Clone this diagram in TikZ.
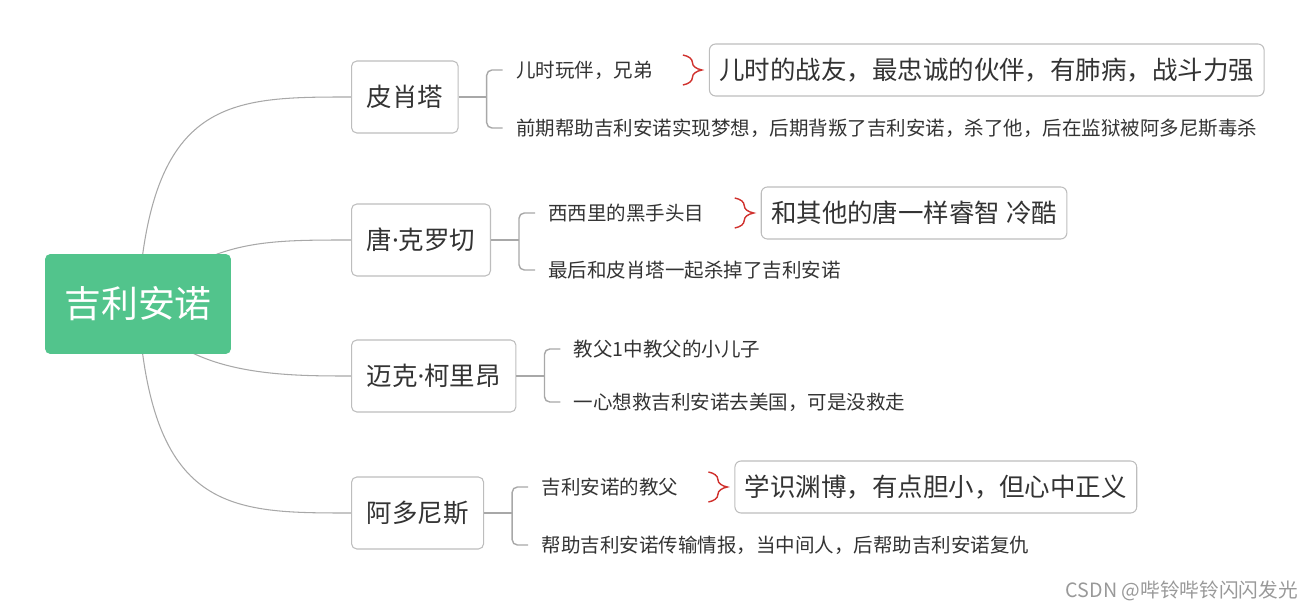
\documentclass[tikz,border=0pt]{standalone}
\usepackage{fontspec}
\setmainfont{Noto Sans CJK SC}
\newfontfamily\dotfont{Noto Sans}
\usetikzlibrary{positioning, calc, backgrounds, decorations.pathreplacing}
\definecolor{rootgreen}{HTML}{52C48C}
\definecolor{linegray}{HTML}{A8A8A8}
\definecolor{boxgray}{HTML}{BDBDBD}
\definecolor{textgray}{HTML}{333333}
\definecolor{bracered}{HTML}{D0312D}
\newcommand{\mdot}{{\dotfont ·}}

\begin{document}
\begin{tikzpicture}[
    x=0.02cm, y=-0.02cm,
    root/.style={rectangle, rounded corners=3pt, fill=rootgreen,
                 minimum width=3.72cm, minimum height=2cm,
                 text=white, font=\fontsize{21}{25}\selectfont},
    topic/.style={rectangle, rounded corners=3pt, draw=boxgray, line width=0.6pt,
                  fill=white, inner xsep=8.6pt, minimum height=1.44cm,
                  text=textgray, font=\fontsize{14.5}{17}\selectfont},
    leaf/.style={inner xsep=7.4pt, inner ysep=2pt, text=textgray,
                 font=\fontsize{11.1}{13}\selectfont},
    note/.style={rectangle, rounded corners=3.5pt, draw=boxgray, line width=0.6pt,
                 inner xsep=5.6pt, minimum height=1.04cm,
                 text=textgray, font=\fontsize{14.5}{17}\selectfont},
    branch/.style={draw=linegray, line width=0.6pt},
    fork/.style={draw=linegray, line width=0.8pt, rounded corners=3pt},
    curly/.style={draw=bracered, line width=0.8pt,
                  decorate, decoration={brace, amplitude=0.38cm}}
  ]
    \useasboundingbox (0,0) rectangle (1315,611);

    % centre and the four people
    \node[root] (g) at (138,304) {吉利安诺};
    \node[topic, anchor=west] (p) at (351,97) {皮肖塔};
    \node[topic, anchor=west] (t) at (351,240) {唐\mdot 克罗切};
    \node[topic, anchor=west] (m) at (351,376) {迈克\mdot 柯里昂};
    \node[topic, anchor=west] (a) at (351,513) {阿多尼斯};

    \begin{scope}[on background layer]
      \draw[branch] (g.center) .. controls (150,97) and (230,97) .. (p.west);
      \draw[branch] (g.center) .. controls (210,240) and (260,240) .. (t.west);
      \draw[branch] (g.center) .. controls (180,376) and (280,376) .. (m.west);
      \draw[branch] (g.center) .. controls (150,513) and (230,513) .. (a.west);
    \end{scope}

    % forks
    \coordinate[right=0.56cm of p] (pj);
    \coordinate[right=0.56cm of t] (tj);
    \coordinate[right=0.56cm of m] (mj);
    \coordinate[right=0.56cm of a] (aj);

    \node[leaf, anchor=west] (p1) at ($(pj)+(16,-27)$) {儿时玩伴，兄弟};
    \node[leaf, anchor=west] (p2) at ($(pj)+(16,31)$) {前期帮助吉利安诺实现梦想，后期背叛了吉利安诺，杀了他，后在监狱被阿多尼斯毒杀};
    \node[leaf, anchor=west] (t1) at ($(tj)+(16,-27)$) {西西里的黑手头目};
    \node[leaf, anchor=west] (t2) at ($(tj)+(16,30)$) {最后和皮肖塔一起杀掉了吉利安诺};
    \node[leaf, anchor=west] (m1) at ($(mj)+(16,-27)$) {教父1中教父的小儿子};
    \node[leaf, anchor=west] (m2) at ($(mj)+(16,26)$) {一心想救吉利安诺去美国，可是没救走};
    \node[leaf, anchor=west] (a1) at ($(aj)+(16,-26)$) {吉利安诺的教父};
    \node[leaf, anchor=west] (a2) at ($(aj)+(16,32)$) {帮助吉利安诺传输情报，当中间人，后帮助吉利安诺复仇};

    \draw[fork] (p.east) -- (pj);
    \draw[fork] (p1.west) -| (pj) |- (p2.west);
    \draw[fork] (t.east) -- (tj);
    \draw[fork] (t1.west) -| (tj) |- (t2.west);
    \draw[fork] (m.east) -- (mj);
    \draw[fork] (m1.west) -| (mj) |- (m2.west);
    \draw[fork] (a.east) -- (aj);
    \draw[fork] (a1.west) -| (aj) |- (a2.west);

    % summaries
    \coordinate[right=0.34cm of p1] (pb);
    \coordinate[right=0.34cm of t1] (tb);
    \coordinate[right=0.34cm of a1] (ab);
    \node[note, right=0.52cm of pb] (pn) {儿时的战友，最忠诚的伙伴，有肺病，战斗力强};
    \node[note, right=0.52cm of tb] (tn) {和其他的唐一样睿智 冷酷};
    \node[note, right=0.52cm of ab] (an) {学识渊博，有点胆小，但心中正义};
    \draw[curly] ($(pb)+(0,-15)$) -- ($(pb)+(0,15)$);
    \draw[curly] ($(tb)+(0,-15)$) -- ($(tb)+(0,15)$);
    \draw[curly] ($(ab)+(0,-15)$) -- ($(ab)+(0,15)$);

    \node[anchor=east, text=black!40, font=\fontsize{11.2}{13}\selectfont] (wm) at (1304,591) {CSDN @哔铃哔铃闪闪发光};
\end{tikzpicture}
\end{document}
